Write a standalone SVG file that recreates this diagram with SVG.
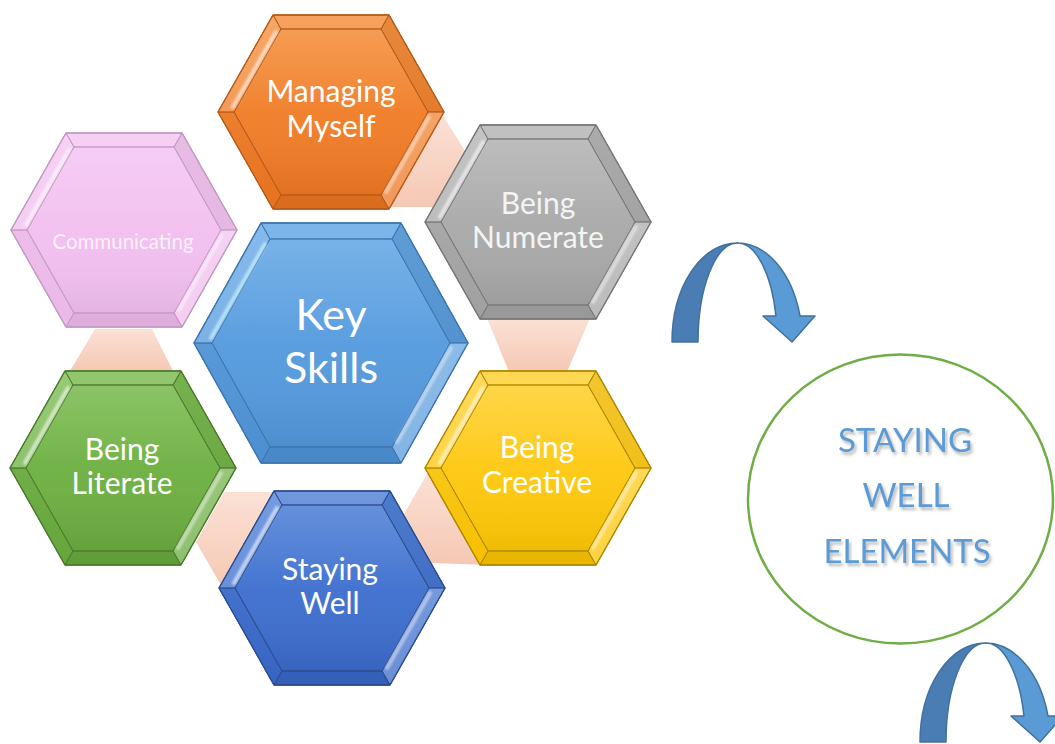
<svg xmlns="http://www.w3.org/2000/svg" xmlns:xlink="http://www.w3.org/1999/xlink" width="1055" height="744" viewBox="0 0 1055 744">
  <style>
    .lbl { font-family: Lato, "Liberation Sans", sans-serif; fill: #ffffff; text-anchor: middle; }
    .sm { font-size: 30px; }
    .big { font-size: 43px; }
    .com { font-size: 20.5px; fill: #fdf0fc; }
    .circ { font-family: Lato, "Liberation Sans", sans-serif; font-size: 33px; fill: #5b9bd5; text-anchor: middle; filter: url(#txtShadow); }
    .link { fill: url(#peach); }
    .arrDark { fill: #4a7db3; stroke: #41719c; stroke-width: 1.5; stroke-linejoin: round; }
    .arrLight { fill: #5b9bd5; stroke: #41719c; stroke-width: 1.5; stroke-linejoin: round; }
  </style>
  <defs>
    <filter id="txtShadow" x="-20%" y="-30%" width="140%" height="160%">
      <feGaussianBlur in="SourceAlpha" stdDeviation="1.6"/>
      <feOffset dx="2" dy="2.5" result="b"/>
      <feFlood flood-color="#808080" flood-opacity="0.55"/>
      <feComposite in2="b" operator="in"/>
      <feMerge><feMergeNode/><feMergeNode in="SourceGraphic"/></feMerge>
    </filter>
    <filter id="soft" x="-20%" y="-20%" width="140%" height="140%">
      <feGaussianBlur stdDeviation="1"/>
    </filter>
    <linearGradient id="peach" x1="0" y1="0" x2="0" y2="1">
      <stop offset="0" stop-color="#fbe1d5"/>
      <stop offset="1" stop-color="#f5c8b4"/>
    </linearGradient>
    <linearGradient id="faceShade" x1="0" y1="0" x2="0" y2="1">
      <stop offset="0" stop-color="#ffffff" stop-opacity="0.12"/>
      <stop offset="0.5" stop-color="#ffffff" stop-opacity="0"/>
      <stop offset="1" stop-color="#000000" stop-opacity="0.05"/>
    </linearGradient>
    <linearGradient id="gOrange" x1="0" y1="0" x2="0" y2="1"><stop offset="0" stop-color="#f5913f"/><stop offset="1" stop-color="#ec7420"/></linearGradient>
    <linearGradient id="gGray" x1="0" y1="0" x2="0" y2="1"><stop offset="0" stop-color="#b5b5b5"/><stop offset="1" stop-color="#a4a4a4"/></linearGradient>
    <linearGradient id="gGold" x1="0" y1="0" x2="0" y2="1"><stop offset="0" stop-color="#ffd133"/><stop offset="1" stop-color="#fbc400"/></linearGradient>
    <linearGradient id="gNavy" x1="0" y1="0" x2="0" y2="1"><stop offset="0" stop-color="#5283d8"/><stop offset="1" stop-color="#3867c8"/></linearGradient>
    <linearGradient id="gGreen" x1="0" y1="0" x2="0" y2="1"><stop offset="0" stop-color="#7dbd53"/><stop offset="1" stop-color="#68a93e"/></linearGradient>
    <linearGradient id="gPink" x1="0" y1="0" x2="0" y2="1"><stop offset="0" stop-color="#f4c7f2"/><stop offset="1" stop-color="#f0bced"/></linearGradient>
    <linearGradient id="gBlue" x1="0" y1="0" x2="0" y2="1"><stop offset="0" stop-color="#67a9e6"/><stop offset="1" stop-color="#4f94d8"/></linearGradient>

    <!-- bevelled hexagon, small -->
    <g id="hexS">
      <polygon points="-58,-97 58,-97 113,0 58,97 -58,97 -113,0"/>
      <polygon points="-58,-97 58,-97 50,-83 -50,-83" fill="#ffffff" fill-opacity="0.16"/>
      <polygon points="58,-97 113,0 97,0 50,-83" fill="#000000" fill-opacity="0.05"/>
      <polygon points="113,0 58,97 50,83 97,0" fill="#ffffff" fill-opacity="0.26"/>
      <polygon points="58,97 -58,97 -50,83 50,83" fill="#000000" fill-opacity="0.07"/>
      <polygon points="-58,97 -113,0 -97,0 -50,83" fill="#000000" fill-opacity="0.02"/>
      <polygon points="-113,0 -58,-97 -50,-83 -97,0" fill="#ffffff" fill-opacity="0.2"/>
      <polygon points="-50,-83 50,-83 97,0 50,83 -50,83 -97,0" fill="url(#faceShade)"/>
      <line x1="-98" y1="-5" x2="-55" y2="-80" stroke="#ffffff" stroke-opacity="0.6" stroke-width="4" stroke-linecap="round" filter="url(#soft)"/>
      <line x1="98" y1="5" x2="55" y2="80" stroke="#ffffff" stroke-opacity="0.45" stroke-width="4" stroke-linecap="round" filter="url(#soft)"/>
      <polygon points="-58,-97 58,-97 113,0 58,97 -58,97 -113,0" fill="none" stroke-width="1.3"/>
    </g>

    <!-- bevelled hexagon, large -->
    <g id="hexL">
      <polygon points="-70,-120 70,-120 137,0 70,120 -70,120 -137,0"/>
      <polygon points="-70,-120 70,-120 61,-104 -61,-104" fill="#ffffff" fill-opacity="0.15"/>
      <polygon points="70,-120 137,0 119,0 61,-104" fill="#000000" fill-opacity="0.07"/>
      <polygon points="137,0 70,120 61,104 119,0" fill="#ffffff" fill-opacity="0.3"/>
      <polygon points="70,120 -70,120 -61,104 61,104" fill="#000000" fill-opacity="0.08"/>
      <polygon points="-70,120 -137,0 -119,0 -61,104" fill="#000000" fill-opacity="0.03"/>
      <polygon points="-137,0 -70,-120 -61,-104 -119,0" fill="#ffffff" fill-opacity="0.2"/>
      <polygon points="-61,-104 61,-104 119,0 61,104 -61,104 -119,0" fill="url(#faceShade)"/>
      <line x1="-120" y1="-5" x2="-66" y2="-99" stroke="#c8f0ff" stroke-opacity="0.75" stroke-width="4" stroke-linecap="round" filter="url(#soft)"/>
      <line x1="120" y1="5" x2="66" y2="99" stroke="#ffffff" stroke-opacity="0.4" stroke-width="4" stroke-linecap="round" filter="url(#soft)"/>
      <polygon points="-70,-120 70,-120 137,0 70,120 -70,120 -137,0" fill="none" stroke-width="1.3"/>
    </g>
  </defs>

  <rect width="1055" height="744" fill="#ffffff"/>

  <!-- links between neighbouring hexagons -->
  <g id="connectors">
    <polygon class="link" points="442,114 472,162 440,207 390,207"/>
    <polygon class="link" points="95,329 152,329 173,371 70,371"/>
    <polygon class="link" points="487,318 590,318 567,372 509,372"/>
    <polygon class="link" points="224,492 280,492 280,590 221,585 196,542"/>
    <polygon class="link" points="404,514 428,472 490,565 430,563"/>
  </g>

  <g id="node-managing">
    <use xlink:href="#hexS" transform="translate(331,112)" fill="url(#gOrange)" stroke="#b95d1b"/>
    <text class="lbl sm" x="331" y="102">Managing</text>
    <text class="lbl sm" x="331" y="137">Myself</text>
  </g>

  <g id="node-numerate">
    <use xlink:href="#hexS" transform="translate(538,222)" fill="url(#gGray)" stroke="#7a7a7a"/>
    <text class="lbl sm" x="538" y="214" style="fill:#f4f4f4">Being</text>
    <text class="lbl sm" x="538" y="248" style="fill:#f4f4f4">Numerate</text>
  </g>

  <g id="node-communicating">
    <use xlink:href="#hexS" transform="translate(124,230)" fill="url(#gPink)" stroke="#c49bc3"/>
    <text class="lbl com" x="123" y="249">Communicating</text>
  </g>

  <g id="node-literate">
    <use xlink:href="#hexS" transform="translate(123,468)" fill="url(#gGreen)" stroke="#4e7d2f"/>
    <text class="lbl sm" x="122" y="460">Being</text>
    <text class="lbl sm" x="122" y="494">Literate</text>
  </g>

  <g id="node-creative">
    <use xlink:href="#hexS" transform="translate(538,468)" fill="url(#gGold)" stroke="#b38a00"/>
    <text class="lbl sm" x="537" y="458">Being</text>
    <text class="lbl sm" x="537" y="493">Creative</text>
  </g>

  <g id="node-staying-well">
    <use xlink:href="#hexS" transform="translate(332,588)" fill="url(#gNavy)" stroke="#2d4f90"/>
    <text class="lbl sm" x="330" y="580">Staying</text>
    <text class="lbl sm" x="330" y="614">Well</text>
  </g>

  <g id="node-key-skills">
    <use xlink:href="#hexL" transform="translate(331,343)" fill="url(#gBlue)" stroke="#3f77b0"/>
    <text class="lbl big" x="331" y="330">Key</text>
    <text class="lbl big" x="331" y="383">Skills</text>
  </g>

  <g id="arrow-upper">
    <path class="arrDark" d="M672,342 A65,99 0 0 1 737.5,243 A39.5,99 0 0 0 698,342 Z"/>
    <path class="arrLight" d="M737.5,243 A65,99 0 0 1 800,316 L815,316 L792,342 L763,316 L776,316 A39.5,99 0 0 0 737.5,243 Z"/>
  </g>

  <g id="node-staying-well-elements">
    <ellipse cx="900.5" cy="499" rx="152.5" ry="144.5" fill="#ffffff" stroke="#70ad47" stroke-width="2.5"/>
    <text class="circ" x="905" y="452">STAYING</text>
    <text class="circ" x="906" y="507">WELL</text>
    <text class="circ" x="907" y="563">ELEMENTS</text>
  </g>

  <g id="arrow-lower" transform="translate(248,400)">
    <path class="arrDark" d="M672,342 A65,99 0 0 1 737.5,243 A39.5,99 0 0 0 698,342 Z"/>
    <path class="arrLight" d="M737.5,243 A65,99 0 0 1 800,316 L815,316 L792,342 L763,316 L776,316 A39.5,99 0 0 0 737.5,243 Z"/>
  </g>
</svg>
